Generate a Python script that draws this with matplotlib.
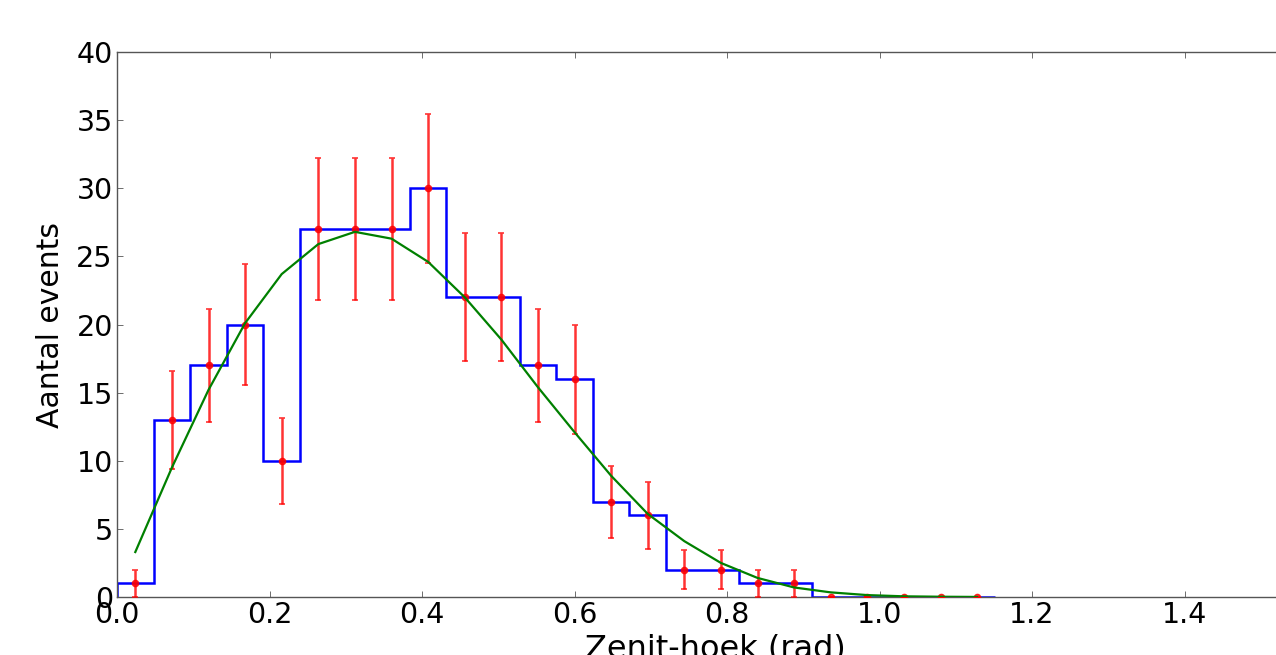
import numpy as np
import matplotlib
matplotlib.use("Agg")
import matplotlib.pyplot as plt

# zenith angle histogram, 24 bins of 0.048 rad
bin_edges = np.linspace(0.0, 1.152, 25)
counts = [1, 13, 17, 20, 10, 27, 27, 27, 30, 22, 22, 17,
          16, 7, 6, 2, 2, 1, 1, 0, 0, 0, 0, 0]
fit_values = [3.3, 9.5, 15.2, 20.1, 23.7, 25.9, 26.8, 26.3, 24.6, 22.0,
              18.9, 15.4, 12.1, 8.9, 6.1, 4.1, 2.5, 1.4, 0.7, 0.34,
              0.14, 0.05, 0.02, 0.005]

centers = 0.5 * (bin_edges[1:] + bin_edges[:-1])
counts = np.array(counts, dtype=float)
errors = np.sqrt(counts)

W, H = 1276, 655
fig = plt.figure(figsize=(W / 100, H / 100), dpi=100)
ax_left = 117 / W
ax_bottom = (H - 597) / H
ax_height = (597 - 52) / H
ax_width = (np.pi / 2) * 762.5 / W
ax = fig.add_axes([ax_left, ax_bottom, ax_width, ax_height])

ax.stairs(counts, bin_edges, color="blue", lw=1.8, baseline=0)
ax.errorbar(centers, counts, yerr=errors, fmt="o", color="red",
            ecolor="red", elinewidth=1.8, capsize=2.5, capthick=1.2,
            markersize=4.5, alpha=0.8, zorder=3)
ax.plot(centers, fit_values, color="green", lw=1.6, zorder=4)

ax.set_xlim(0, np.pi / 2)
ax.set_ylim(0, 40)
ax.set_xticks([0.0, 0.2, 0.4, 0.6, 0.8, 1.0, 1.2, 1.4])
ax.set_yticks([0, 5, 10, 15, 20, 25, 30, 35, 40])
ax.tick_params(direction="in", top=True, right=True, labelsize=20.5,
               length=4, width=0.6, color="#555555", pad=3)
for s in ax.spines.values():
    s.set_color("#555555")
    s.set_linewidth(1.0)

ax.set_xlabel("Zenit-hoek (rad)", fontsize=23, labelpad=3)
ax.set_ylabel("Aantal events", fontsize=21.5, labelpad=8)

fig.savefig("out.png", dpi=100)
